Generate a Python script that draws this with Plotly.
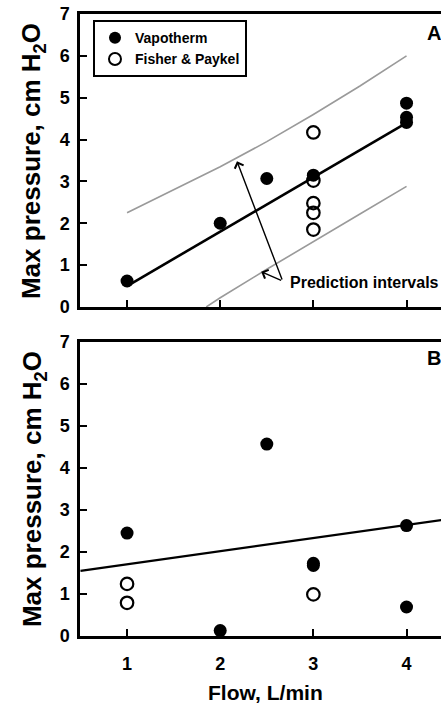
import plotly.graph_objects as go

# ---------------- data ----------------
# Panel A
a_vapo_x = [1, 2, 2.5, 3, 4, 4, 4]
a_vapo_y = [0.62, 2.0, 3.07, 3.15, 4.87, 4.53, 4.41]
a_fp_x = [3, 3, 3, 3, 3]
a_fp_y = [4.17, 3.02, 2.48, 2.25, 1.85]
a_fit_x = [1, 4]
a_fit_y = [0.5, 4.4]
a_upper_x = [1, 1.5, 2, 2.5, 3, 3.5, 4]
a_upper_y = [2.25, 2.8, 3.35, 3.95, 4.6, 5.28, 6.0]
a_lower_x = [1.85, 2, 2.5, 3, 3.5, 4]
a_lower_y = [0.0, 0.22, 0.9, 1.57, 2.22, 2.88]

# Panel B
b_vapo_x = [1, 2, 2.5, 3, 3, 4, 4]
b_vapo_y = [2.45, 0.13, 4.57, 1.73, 1.68, 2.63, 0.69]
b_fp_x = [1, 1, 3]
b_fp_y = [1.24, 0.79, 0.99]
b_fit_x = [0.5, 4.5]
b_fit_y = [1.55, 2.8]

x_ticks = [1, 2, 3, 4]
y_ticks = [0, 1, 2, 3, 4, 5, 6, 7]

FONT = "Arial, 'Liberation Sans', Helvetica, sans-serif"

fig = go.Figure()

filled = dict(symbol="circle", size=13, color="black")
opened = dict(symbol="circle-open", size=12.5, color="black", line=dict(width=2.2, color="black"))

# ---- Panel A (x, y) ----
fig.add_trace(go.Scatter(x=a_upper_x, y=a_upper_y, mode="lines",
                         line=dict(color="#9a9a9a", width=1.6), showlegend=False,
                         xaxis="x", yaxis="y"))
fig.add_trace(go.Scatter(x=a_lower_x, y=a_lower_y, mode="lines",
                         line=dict(color="#9a9a9a", width=1.6), showlegend=False,
                         xaxis="x", yaxis="y"))
fig.add_trace(go.Scatter(x=a_fit_x, y=a_fit_y, mode="lines",
                         line=dict(color="black", width=2.6), showlegend=False,
                         xaxis="x", yaxis="y"))
fig.add_trace(go.Scatter(x=a_vapo_x, y=a_vapo_y, mode="markers", marker=filled,
                         name="Vapotherm", xaxis="x", yaxis="y"))
fig.add_trace(go.Scatter(x=a_fp_x, y=a_fp_y, mode="markers", marker=opened,
                         name="Fisher & Paykel", xaxis="x", yaxis="y"))

# ---- Panel B (x2, y2) ----
fig.add_trace(go.Scatter(x=b_fit_x, y=b_fit_y, mode="lines",
                         line=dict(color="black", width=2.2), showlegend=False,
                         xaxis="x2", yaxis="y2"))
fig.add_trace(go.Scatter(x=b_vapo_x, y=b_vapo_y, mode="markers", marker=filled,
                         showlegend=False, xaxis="x2", yaxis="y2"))
fig.add_trace(go.Scatter(x=b_fp_x, y=b_fp_y, mode="markers", marker=opened,
                         showlegend=False, xaxis="x2", yaxis="y2"))

XR = [0.495, 4.37]
common_x = dict(range=XR, tickvals=x_ticks, showline=True, linecolor="black", linewidth=2.5,
                mirror=True, ticks="inside", ticklen=7, tickwidth=2, tickcolor="black",
                showgrid=False, zeroline=False,
                tickfont=dict(family=FONT, size=18, color="black", weight="bold"))
common_y = dict(range=[0, 7], tickvals=y_ticks, showline=True, linecolor="black", linewidth=2.5,
                mirror=False, ticks="inside", ticklen=7, tickwidth=2, tickcolor="black",
                showgrid=False, zeroline=False, ticklabelstandoff=4,
                tickfont=dict(family=FONT, size=18, color="black", weight="bold"))

domA = [0.529, 1.0]
domB = [0.0, 0.4727]

fig.update_layout(
    width=441, height=707, autosize=False,
    margin=dict(l=80, r=0, t=14, b=71),
    paper_bgcolor="white", plot_bgcolor="white",
    font=dict(family=FONT, color="black"),
    xaxis=dict(common_x, domain=[0, 1], anchor="y", showticklabels=False),
    yaxis=dict(common_y, domain=domA, anchor="x"),
    xaxis2=dict(common_x, domain=[0, 1], anchor="y2", ticklabelstandoff=10),
    yaxis2=dict(common_y, domain=domB, anchor="x2"),
    legend=dict(x=0.036, y=0.99, xanchor="left", yanchor="top",
                bordercolor="black", borderwidth=2, bgcolor="white",
                font=dict(family=FONT, size=14, color="black", weight="bold"),
                tracegroupgap=0, itemsizing="constant"),
    showlegend=True,
)

ytitle = "<b>Max pressure, cm H<sub>2</sub>O</b>"
ann = [
    dict(text=ytitle, textangle=-90, xref="paper", yref="paper", x=-0.130, y=0.7637,
         xanchor="center", yanchor="middle", showarrow=False,
         font=dict(family=FONT, size=26, color="black")),
    dict(text=ytitle, textangle=-90, xref="paper", yref="paper", x=-0.130, y=0.2363,
         xanchor="center", yanchor="middle", showarrow=False,
         font=dict(family=FONT, size=26, color="black")),
    dict(text="<b>Flow, L/min</b>", xref="paper", yref="paper", x=0.515, y=-0.0916,
         xanchor="center", yanchor="middle", showarrow=False,
         font=dict(family=FONT, size=21, color="black")),
    dict(text="<b>A</b>", xref="paper", yref="paper", x=0.955, y=0.969,
         xanchor="left", yanchor="middle", showarrow=False,
         font=dict(family=FONT, size=20, color="black")),
    dict(text="<b>B</b>", xref="paper", yref="paper", x=0.955, y=0.447,
         xanchor="left", yanchor="middle", showarrow=False,
         font=dict(family=FONT, size=20, color="black")),
    dict(text="<b>Prediction intervals</b>", xref="x", yref="y", x=2.73, y=0.58,
         xanchor="left", yanchor="middle", showarrow=False,
         font=dict(family=FONT, size=16, color="black")),
    dict(text="", xref="x", yref="y", x=2.18, y=3.48, axref="x", ayref="y",
         ax=2.67, ay=0.62, showarrow=True, arrowhead=4, arrowsize=1.3,
         arrowwidth=1.4, arrowcolor="black"),
    dict(text="", xref="x", yref="y", x=2.44, y=0.84, axref="x", ayref="y",
         ax=2.67, ay=0.62, showarrow=True, arrowhead=4, arrowsize=1.3,
         arrowwidth=1.4, arrowcolor="black"),
]
fig.update_layout(annotations=ann)

fig.write_html("out.html", config={"displayModeBar": False},
               post_script="document.body.style.margin='0px';document.body.style.overflow='hidden';")
